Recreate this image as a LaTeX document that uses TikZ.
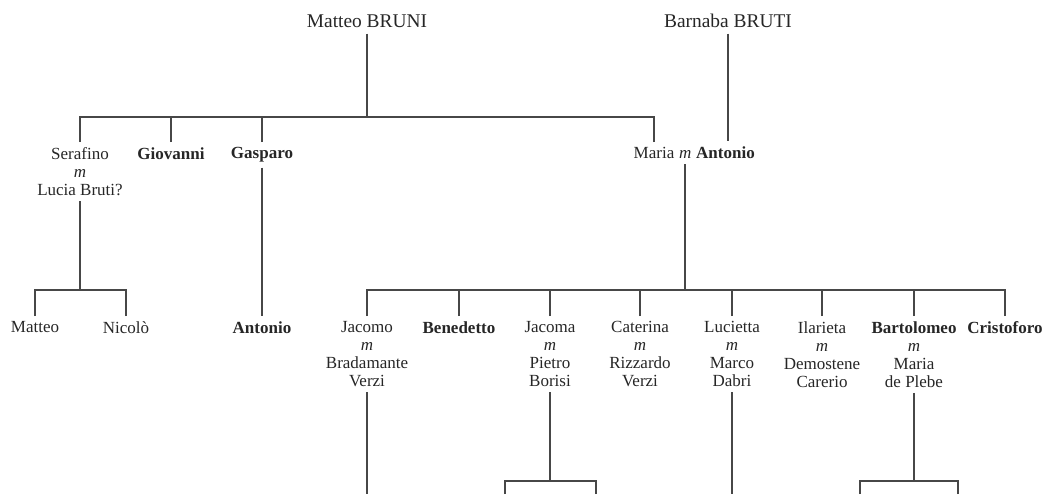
\documentclass[tikz,border=0pt]{standalone}
\usepackage{fontspec}
\setmainfont{Liberation Serif}
\usepackage{xcolor}
\definecolor{famInk}{HTML}{262626}
\definecolor{famLine}{HTML}{474747}
\usepackage{tikz}
\usetikzlibrary{positioning}
\tikzset{
    founder/.style={
        text=famInk,
        anchor=base,
        inner xsep=1pt,
        inner ysep=3pt,
        font=\fontsize{9.7}{11}\selectfont
    },
    person/.style={
        text=famInk,
        anchor=north,
        align=center,
        inner xsep=1pt,
        inner ysep=2.5pt,
        font=\fontsize{8.5}{9}\selectfont
    },
    link/.style={
        draw=famLine,
        line width=0.75pt
    }
}

\begin{document}
\begin{tikzpicture}[x=0.5pt, y=-0.5pt]
    \useasboundingbox (0,0) rectangle (1042,494);

    % Founders
    \node[founder] (bruni) at (367,27) {Matteo BRUNI};
    \node[founder] (bruti) at (728,27) {Barnaba BRUTI};

    % Bar levels
    \coordinate (bar1) at (0,117);
    \coordinate (bar2) at (0,290);
    \coordinate (bar3) at (0,481);

    % Children of Matteo
    \node[person] (serafino) at (80,142) {Serafino\\\textit{m}\\Lucia Bruti?};
    \node[person] (giovanni) at (171,142) {\textbf{Giovanni}};
    \node[person] (gasparo) at (262,142) {\textbf{Gasparo}};
    \node[person] (maria) at (654,142) {Maria};
    \node[person, anchor=base west] (mm) at (maria.base east) {\textit{m}};
    \node[person, anchor=base west] (antonio) at (mm.base east) {\textbf{Antonio}};

    % Grandchildren
    \node[person] (matteo) at (35,316) {Matteo};
    \node[person] (nicolo) at (126,316) {Nicolò};
    \node[person] (antonio2) at (262,316) {\textbf{Antonio}};
    \node[person] (jacomo) at (367,316) {Jacomo\\\textit{m}\\Bradamante\\Verzi};
    \node[person] (benedetto) at (459,316) {\textbf{Benedetto}};
    \node[person] (jacoma) at (550,316) {Jacoma\\\textit{m}\\Pietro\\Borisi};
    \node[person] (caterina) at (640,316) {Caterina\\\textit{m}\\Rizzardo\\Verzi};
    \node[person] (lucietta) at (732,316) {Lucietta\\\textit{m}\\Marco\\Dabri};
    \node[person] (ilarieta) at (822,316) {Ilarieta\\\textit{m}\\Demostene\\Carerio};
    \node[person] (bartolomeo) at (914,316) {\textbf{Bartolomeo}\\\textit{m}\\Maria\\de Plebe};
    \node[person] (cristoforo) at (1005,316) {\textbf{Cristoforo}};

    % Loose ends at the bottom
    \coordinate (jacomoEnd) at (367,494);
    \coordinate (jacomaL) at (505,494);
    \coordinate (jacomaR) at (596,494);
    \coordinate (luciettaEnd) at (732,494);
    \coordinate (bartL) at (860,494);
    \coordinate (bartR) at (958,494);

    % Lines
    \draw[link] (bruni) -- (bruni |- bar1);
    \foreach \child in {serafino,giovanni,gasparo,maria}
        \draw[link] (\child) |- (bruni |- bar1);
    \draw[link] (bruti) -- (bruti |- antonio.north);

    \draw[link] (serafino) -- (serafino |- bar2);
    \foreach \child in {matteo,nicolo}
        \draw[link] (\child) |- (serafino |- bar2);
    \draw[link] (gasparo) -- (antonio2);
    \draw[link] (mm) -- (mm |- bar2);
    \foreach \child in {jacomo,benedetto,jacoma,caterina,lucietta,ilarieta,bartolomeo,cristoforo}
        \draw[link] (\child) |- (mm |- bar2);

    \draw[link] (jacomo) -- (jacomoEnd);
    \draw[link] (jacoma) -- (jacoma |- bar3);
    \draw[link] (jacomaL) |- (jacoma |- bar3);
    \draw[link] (jacomaR) |- (jacoma |- bar3);
    \draw[link] (lucietta) -- (luciettaEnd);
    \draw[link] (bartolomeo) -- (bartolomeo |- bar3);
    \draw[link] (bartL) |- (bartolomeo |- bar3);
    \draw[link] (bartR) |- (bartolomeo |- bar3);
\end{tikzpicture}
\end{document}
